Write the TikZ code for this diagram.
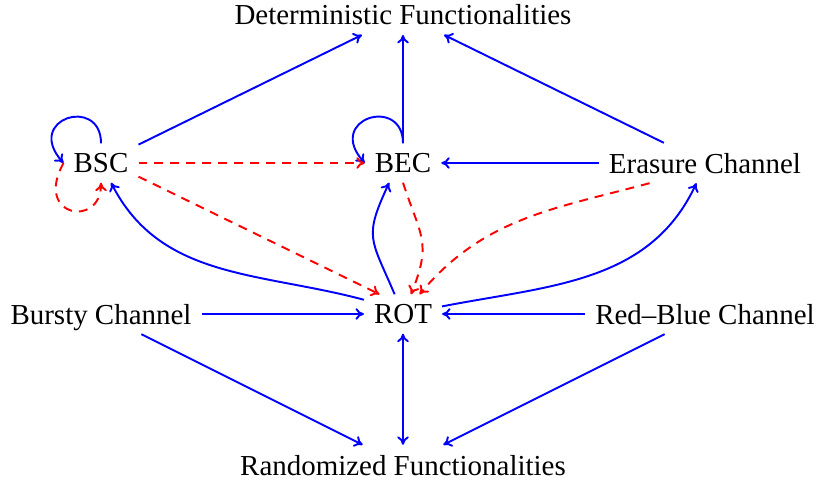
\documentclass[12pt,tikz,border=0pt]{standalone}
\usepackage{fontspec}
\setmainfont{Liberation Serif}
\usepackage{tikz}
\usetikzlibrary{positioning, arrows.meta}

\begin{document}
\begin{tikzpicture}[
  >={To[length=3.5pt, width=4.8pt]},
  blueline/.style={thick, blue, ->},
  redline/.style={thick, red, dash pattern=on 3.7pt off 2.9pt, ->}
]
    \useasboundingbox (-1.472, -0.248) rectangle (10.432, 6.775);

    \begin{scope}[every node/.style={text depth=0pt}]
        \node (det) at (4.4, 6.56) {Deterministic Functionalities};
        \node (bsc) at (0, 4.4) {BSC};
        \node (bec) at (4.4, 4.4) {BEC};
        \node (erasure) at (8.8, 4.4) {Erasure Channel};
        \node (bursty) at (0, 2.2) {Bursty Channel};
        \node (rot) at (4.4, 2.2) {ROT};
        \node (redblue) at (8.8, 2.2) {Red--Blue Channel};
        \node (rand) at (4.4, 0) {Randomized Functionalities};
    \end{scope}

    % loops
    \draw[blueline] (bsc.north) .. controls +(90:0.7) and +(132:0.87) .. (bsc.west);
    \draw[redline] (bsc.west) .. controls +(241:0.91) and +(270:0.66) .. (bsc.south);
    \draw[blueline] (bec.north) .. controls +(90:0.7) and +(132:0.87) .. (bec.west);

    % to the deterministic ones
    \draw[blueline] (bsc) -- (det);
    \draw[blueline] (bec) -- (det);
    \draw[blueline] (erasure) -- (det);

    % middle row
    \draw[redline] (bsc) -- (bec);
    \draw[blueline] (erasure) -- (bec);
    \draw[redline] (bsc.-20) -- (rot.140);
    \draw[redline] (bec.south) to[out=-72, in=68, looseness=1.3] (rot.68);
    \draw[redline] (erasure.200) to[out=195, in=50] (rot.50);
    \draw[blueline] (rot.160) to[out=165, in=-63] (bsc.-63);
    \draw[blueline] (rot.113) to[out=113, in=-115, looseness=1.4] (bec.-125);
    \draw[blueline] (rot.11) to[out=11, in=-115] (erasure.-113);

    % bottom row
    \draw[blueline] (bursty) -- (rot);
    \draw[blueline] (redblue) -- (rot);
    \draw[blueline] (bursty) -- (rand);
    \draw[blueline] (redblue) -- (rand);
    \draw[blueline, <->] (rot) -- (rand);
\end{tikzpicture}
\end{document}
